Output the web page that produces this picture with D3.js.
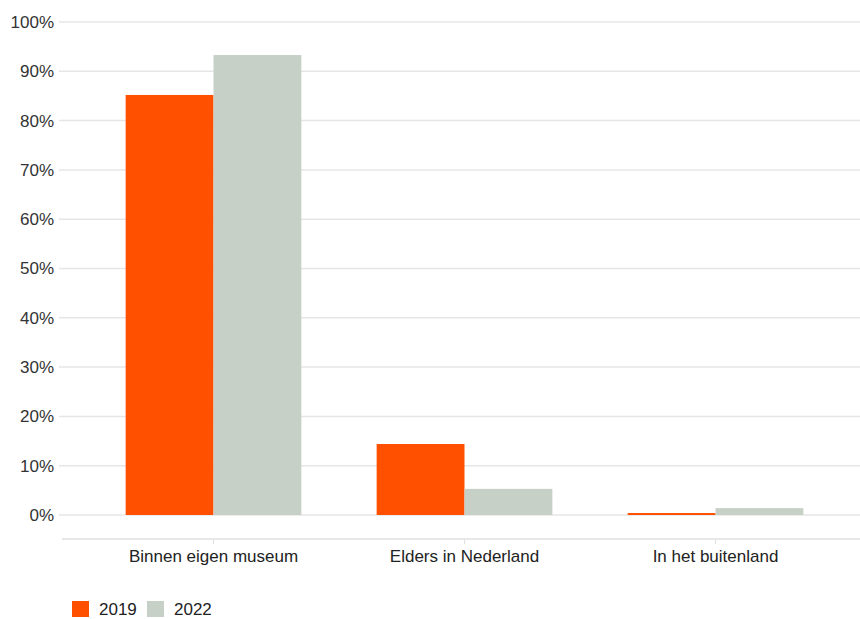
<!DOCTYPE html>
<html>
<head>
<meta charset="utf-8">
<script src="https://cdn.jsdelivr.net/npm/d3@7"></script>
<style>
  body { margin: 0; background: #fff; }
  text { font-family: "Liberation Sans", Arial, sans-serif; }
</style>
</head>
<body>
<svg id="chart" width="860" height="619"></svg>
<script>
// data
const categories = ["Binnen eigen museum", "Elders in Nederland", "In het buitenland"];
const years = ["2019", "2022"];
const values2019 = [85.2, 14.4, 0.4];
const values2022 = [93.3, 5.3, 1.4];
const yTicks = [0, 10, 20, 30, 40, 50, 60, 70, 80, 90, 100];
const colors = ["#FF5000", "#C7D0C7"];

const data = categories.map((c, i) => ({ name: c, values: [values2019[i], values2022[i]] }));

const svg = d3.select("#chart");

const xScale = d3.scaleBand().domain(categories).range([88, 841]).paddingInner(0.3).paddingOuter(0.15);
const subScale = d3.scaleBand().domain(years).range([0, xScale.bandwidth()]);
const yScale = d3.scaleLinear().domain([0, 100]).range([515, 22]);

// gridlines
svg.append("g").selectAll("line").data(yTicks).enter().append("line")
  .attr("x1", 59).attr("x2", 860)
  .attr("y1", d => yScale(d)).attr("y2", d => yScale(d))
  .attr("stroke", "#e6e6e6").attr("stroke-width", 1.5);

// y labels
svg.append("g").selectAll("text").data(yTicks).enter().append("text")
  .attr("x", 54).attr("y", d => yScale(d))
  .attr("dy", "0.35em").attr("text-anchor", "end")
  .attr("font-size", 17).attr("fill", "#333")
  .text(d => d + "%");

// bars
const groups = svg.append("g").selectAll("g").data(data).enter().append("g")
  .attr("transform", d => `translate(${xScale(d.name)},0)`);
groups.selectAll("rect").data(d => d.values).enter().append("rect")
  .attr("x", (d, i) => subScale(years[i]))
  .attr("width", subScale.bandwidth())
  .attr("y", d => yScale(d))
  .attr("height", d => yScale(0) - yScale(d))
  .attr("fill", (d, i) => colors[i]);

// x axis
const xAxis = svg.append("g").attr("transform", "translate(0,539)")
  .call(d3.axisBottom(xScale).tickSize(5).tickPadding(6));
xAxis.select(".domain").attr("d", "M62,0H860").attr("stroke", "#e0e0e0").attr("stroke-width", 1.5);
xAxis.selectAll(".tick line").attr("stroke", "#e0e0e0");
xAxis.selectAll(".tick text").attr("font-size", 17).attr("fill", "#222")
  .attr("font-family", "Liberation Sans, Arial, sans-serif");

// legend
const legend = svg.append("g").attr("transform", "translate(72,601)");
const li = legend.selectAll("g").data(years).enter().append("g")
  .attr("transform", (d, i) => `translate(${i * 75},0)`);
li.append("rect").attr("width", 17).attr("height", 16).attr("fill", (d, i) => colors[i]);
li.append("text").attr("x", 27).attr("y", 8).attr("dy", "0.35em")
  .attr("font-size", 17).attr("fill", "#222").text(d => d);
</script>
</body>
</html>
